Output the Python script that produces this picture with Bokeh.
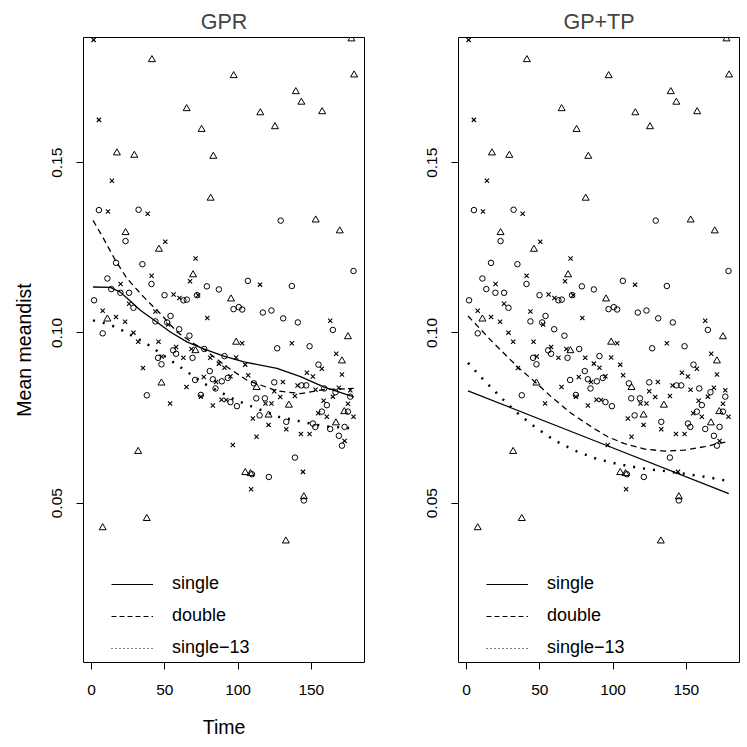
from bokeh.plotting import figure
from bokeh.layouts import row
from bokeh.models import Range1d, FixedTicker, Legend, LegendItem
from bokeh.embed import file_html
from bokeh.resources import INLINE

FONT = "Liberation Sans"
NAN = float("nan")

# ---- scatter data (same in both panels) ----
tri_x = [41.2, 97.0, 177.4, 179.2, 139.4, 143.2, 157.4, 115.2, 125.2, 64.9, 75.1, 17.3, 29.2, 83.1,
         81.3, 153.0, 169.4, 23.2, 46.0, 69.3, 95.2, 10.8, 175.0, 98.7, 170.9, 70.9, 47.7, 112.6,
         134.7, 120.8, 172.5, 166.8, 31.8, 104.9, 108.5, 144.9, 37.7, 7.6, 132.6]
tri_y = [0.1803, 0.1756, 0.1864, 0.1758, 0.1709, 0.1678, 0.1650, 0.1647, 0.1606, 0.1659, 0.1598, 0.1529, 0.1522, 0.1519,
         0.1396, 0.1332, 0.1300, 0.1295, 0.1246, 0.1171, 0.1100, 0.1041, 0.0989, 0.0973, 0.0918, 0.0948, 0.0853, 0.0840,
         0.0788, 0.0759, 0.0769, 0.0736, 0.0652, 0.0590, 0.0587, 0.0519, 0.0455, 0.0428, 0.0389]

crs_x = [1.4, 5.0, 13.9, 11.2, 38.3, 50.3, 71.0, 41.0, 67.2, 19.8, 115.0, 56.0, 60.0, 72.7, 79.0, 25.6,
         7.6, 16.7, 22.9, 43.6, 52.3, 162.9, 28.6, 31.8, 45.7, 102.8, 136.7, 167.0, 35.1, 170.9, 57.7,
         47.9, 62.7, 68.2, 81.0, 98.7, 86.9, 90.7, 104.9, 106.9, 76.6, 85.0, 94.8, 64.8, 74.6, 82.8,
         88.7, 91.9, 53.6, 130.6, 140.6, 147.0, 151.1, 157.2, 152.9, 164.7, 168.8, 176.6, 118.7, 122.8,
         124.7, 128.8, 138.8, 158.4, 175.0, 154.7, 160.6, 178.8, 172.7, 142.9, 148.8, 132.9, 110.1,
         120.8, 112.6, 96.4, 108.9, 144.3]
crs_y = [0.1861, 0.1626, 0.1447, 0.1357, 0.1350, 0.1268, 0.1219, 0.1168, 0.1152, 0.1144, 0.1142, 0.1113, 0.1103, 0.1111, 0.1044, 0.1086,
         0.1065, 0.1047, 0.1033, 0.1063, 0.1025, 0.1036, 0.1001, 0.0974, 0.0974, 0.0970, 0.0970, 0.0939, 0.0897, 0.0878, 0.0959,
         0.0931, 0.0927, 0.0953, 0.0927, 0.0928, 0.0910, 0.0898, 0.0907, 0.0876, 0.0871, 0.0856, 0.0873, 0.0841, 0.0813, 0.0787,
         0.0804, 0.0803, 0.0793, 0.0856, 0.0846, 0.0883, 0.0872, 0.0895, 0.0833, 0.0813, 0.0839, 0.0832, 0.0793, 0.0793,
         0.0829, 0.0812, 0.0815, 0.0801, 0.0792, 0.0764, 0.0754, 0.0754, 0.0683, 0.0703, 0.0703, 0.0717, 0.0749,
         0.0730, 0.0695, 0.0671, 0.0541, 0.0592]

cir_x = [5.0, 32.1, 129.1, 23.2, 16.7, 34.7, 178.8, 10.8, 40.9, 106.7, 136.7, 78.7, 86.9, 13.5, 19.7, 25.6,
         49.8, 62.7, 65.0, 72.0, 1.7, 96.9, 100.5, 102.8, 116.9, 122.8, 130.8, 140.8, 164.7, 28.6, 43.6,
         53.9, 51.6, 59.8, 66.8, 7.6, 126.7, 148.8, 55.7, 57.7, 45.4, 47.7, 68.9, 76.9, 90.7, 70.7, 80.7,
         82.8, 84.6, 88.9, 93.0, 74.6, 94.8, 99.2, 37.7, 110.8, 124.7, 143.3, 146.5, 154.9, 158.8, 166.5,
         176.6, 112.4, 118.3, 160.6, 157.2, 175.0, 172.7, 162.9, 151.1, 152.7, 168.8, 170.9, 132.9, 114.7,
         138.8, 109.5, 121.0, 144.9]
cir_y = [0.1361, 0.1362, 0.1330, 0.1270, 0.1206, 0.1202, 0.1182, 0.1160, 0.1144, 0.1153, 0.1138, 0.1137, 0.1128, 0.1129, 0.1118, 0.1118,
         0.1111, 0.1096, 0.1098, 0.1111, 0.1096, 0.1070, 0.1076, 0.1069, 0.1060, 0.1066, 0.1043, 0.1031, 0.1009, 0.1074, 0.1034,
         0.1050, 0.1031, 0.1011, 0.0992, 0.0999, 0.0955, 0.0961, 0.0949, 0.0939, 0.0927, 0.0908, 0.0927, 0.0953, 0.0932, 0.0862, 0.0888,
         0.0864, 0.0837, 0.0858, 0.0868, 0.0818, 0.0797, 0.0785, 0.0817, 0.0852, 0.0855, 0.0846, 0.0846, 0.0907, 0.0837, 0.0826,
         0.0813, 0.0808, 0.0808, 0.0788, 0.0769, 0.0769, 0.0724, 0.0718, 0.0734, 0.0724, 0.0698, 0.0669, 0.0739, 0.0758,
         0.0634, 0.0585, 0.0577, 0.0508]

# ---- fitted curves ----
gpr_single_x = [1, 12.8, 19.6, 26.4, 33.3, 44.0, 53.8, 65.1, 76.1, 90.2, 104, 126.6, 142.6, 159.2, 179]
gpr_single_y = [0.1135, 0.1134, 0.1120, 0.1094, 0.1067, 0.1034, 0.1003, 0.0974, 0.0954, 0.0932, 0.0915, 0.0896, 0.0872, 0.0840, 0.0812]
gpr_double_x = [1, 8.2, 16.2, 24.2, 35.5, 46.9, 58.3, 69.7, 76.1, 92.5, 106.1, 126.6, 142.6, 159.2, 179]
gpr_double_y = [0.1331, 0.1277, 0.1214, 0.1160, 0.1106, 0.1057, 0.1003, 0.0969, 0.0954, 0.0900, 0.0861, 0.0830, 0.0822, 0.0834, 0.0837]
gpr_s13_x = [1, 8.9, 16.2, 23.8, 37.4, 57.2, 76.5, 98.2, 113, 127.7, 143.7, 158.5, 174.5, 179]
gpr_s13_y = [0.1037, 0.1029, 0.1018, 0.1001, 0.0969, 0.0910, 0.0852, 0.0803, 0.0778, 0.0754, 0.0739, 0.0726, 0.0721, 0.0720]

gptp_single_x = [1, 90, 179]
gptp_single_y = [0.0830, 0.0679, 0.0528]
gptp_double_x = [1, 16.7, 34.9, 47.9, 57.7, 71.4, 85.0, 96.4, 107.8, 121.5, 135.1, 148.8, 162.5, 179]
gptp_double_y = [0.1050, 0.0978, 0.0900, 0.0852, 0.0813, 0.0764, 0.0725, 0.0695, 0.0675, 0.0659, 0.0653, 0.0656, 0.0666, 0.0682]
gptp_s13_x = [1, 11.3, 22.4, 34.0, 46.3, 59.8, 74.1, 88.9, 104.4, 120.1, 135.8, 151.5, 167.5, 179]
gptp_s13_y = [0.0912, 0.0864, 0.0815, 0.0767, 0.0725, 0.0685, 0.0654, 0.0630, 0.0614, 0.0602, 0.0594, 0.0585, 0.0574, 0.0565]

x_ticks = [0, 50, 100, 150]
y_ticks = [0.05, 0.10, 0.15]
y_tick_labels = ["0.05", "0.10", "0.15"]
legend_labels = ["single", "double", "single\u221213"]


def panel(title, curves, width, left, right, xlabel, ylabel):
    p = figure(width=width, height=745, output_backend="svg", toolbar_location=None,
               x_range=Range1d(-5.5, 186.3), y_range=Range1d(0.0032, 0.1868),
               min_border_left=left, min_border_right=right, min_border_top=37, min_border_bottom=83)
    p.background_fill_color = "white"
    p.border_fill_color = "white"
    p.outline_line_color = "black"
    p.outline_line_width = 1
    p.grid.visible = False

    p.title.text = title
    p.title.align = "center"
    p.title.text_font = FONT
    p.title.text_font_size = "21.5px"
    p.title.text_font_style = "normal"
    p.title.standoff = 8

    for ax in (p.xaxis[0], p.yaxis[0]):
        ax.axis_line_color = None
        ax.major_tick_out = 7
        ax.major_tick_in = 0
        ax.major_tick_line_color = "black"
        ax.minor_tick_line_color = None
        ax.major_label_text_font = FONT
        ax.major_label_text_font_size = "15.5px"
        ax.major_label_text_color = "black"
        ax.axis_label_text_font = FONT
        ax.axis_label_text_font_size = "19.5px"
        ax.axis_label_text_font_style = "normal"
        ax.axis_label_text_color = "black"
    p.xaxis.ticker = FixedTicker(ticks=x_ticks)
    p.yaxis.ticker = FixedTicker(ticks=y_ticks)
    p.yaxis.major_label_overrides = {t: l for t, l in zip(y_ticks, y_tick_labels)}
    p.yaxis.major_label_orientation = "vertical"
    p.xaxis.major_label_standoff = 15
    p.yaxis.major_label_standoff = 14
    if xlabel:
        p.xaxis.axis_label = xlabel
        p.xaxis.axis_label_standoff = 18
    if ylabel:
        p.yaxis.axis_label = ylabel
        p.yaxis.axis_label_standoff = 15

    p.scatter(cir_x, cir_y, marker="circle", size=5.5, fill_color=None, line_color="black", line_width=1)
    p.scatter(crs_x, crs_y, marker="x", size=6, line_color="black", line_width=1.1)
    p.scatter(tri_x, tri_y, marker="triangle", size=7, fill_color=None, line_color="black", line_width=1)

    (sx, sy), (dx, dy), (tx, ty) = curves
    p.line(sx, sy, line_color="black", line_width=1.3)
    p.line(dx, dy, line_color="black", line_width=1.3, line_dash="6 4")
    p.line(tx, ty, line_color="black", line_width=2.5, line_dash="2 8")

    # legend proxies (thin lines, as in the reference key); they draw nothing in the plot
    r1 = p.line([NAN], [NAN], line_color="black", line_width=1)
    r2 = p.line([NAN], [NAN], line_color="black", line_width=1, line_dash="5 3")
    r3 = p.line([NAN], [NAN], line_color="black", line_width=1, line_dash="1 3")
    leg = Legend(items=[LegendItem(label=legend_labels[0], renderers=[r1]),
                        LegendItem(label=legend_labels[1], renderers=[r2]),
                        LegendItem(label=legend_labels[2], renderers=[r3])],
                 location=(28, 4))
    leg.border_line_color = None
    leg.background_fill_alpha = 0
    leg.label_text_font = FONT
    leg.label_text_font_size = "18px"
    leg.label_text_color = "black"
    leg.glyph_width = 42
    leg.glyph_height = 20
    leg.label_height = 20
    leg.spacing = 11
    leg.padding = 0
    leg.margin = 0
    leg.label_standoff = 19
    p.add_layout(leg)
    return p


p1 = panel("GPR", [(gpr_single_x, gpr_single_y), (gpr_double_x, gpr_double_y), (gpr_s13_x, gpr_s13_y)],
           382, 83, 18, "Time", "Mean meandist")
p2 = panel("GP+TP", [(gptp_single_x, gptp_single_y), (gptp_double_x, gptp_double_y), (gptp_s13_x, gptp_s13_y)],
           362, 76, 5, None, None)

layout = row(p1, p2)
open("out.html", "w").write(file_html(layout, INLINE))
